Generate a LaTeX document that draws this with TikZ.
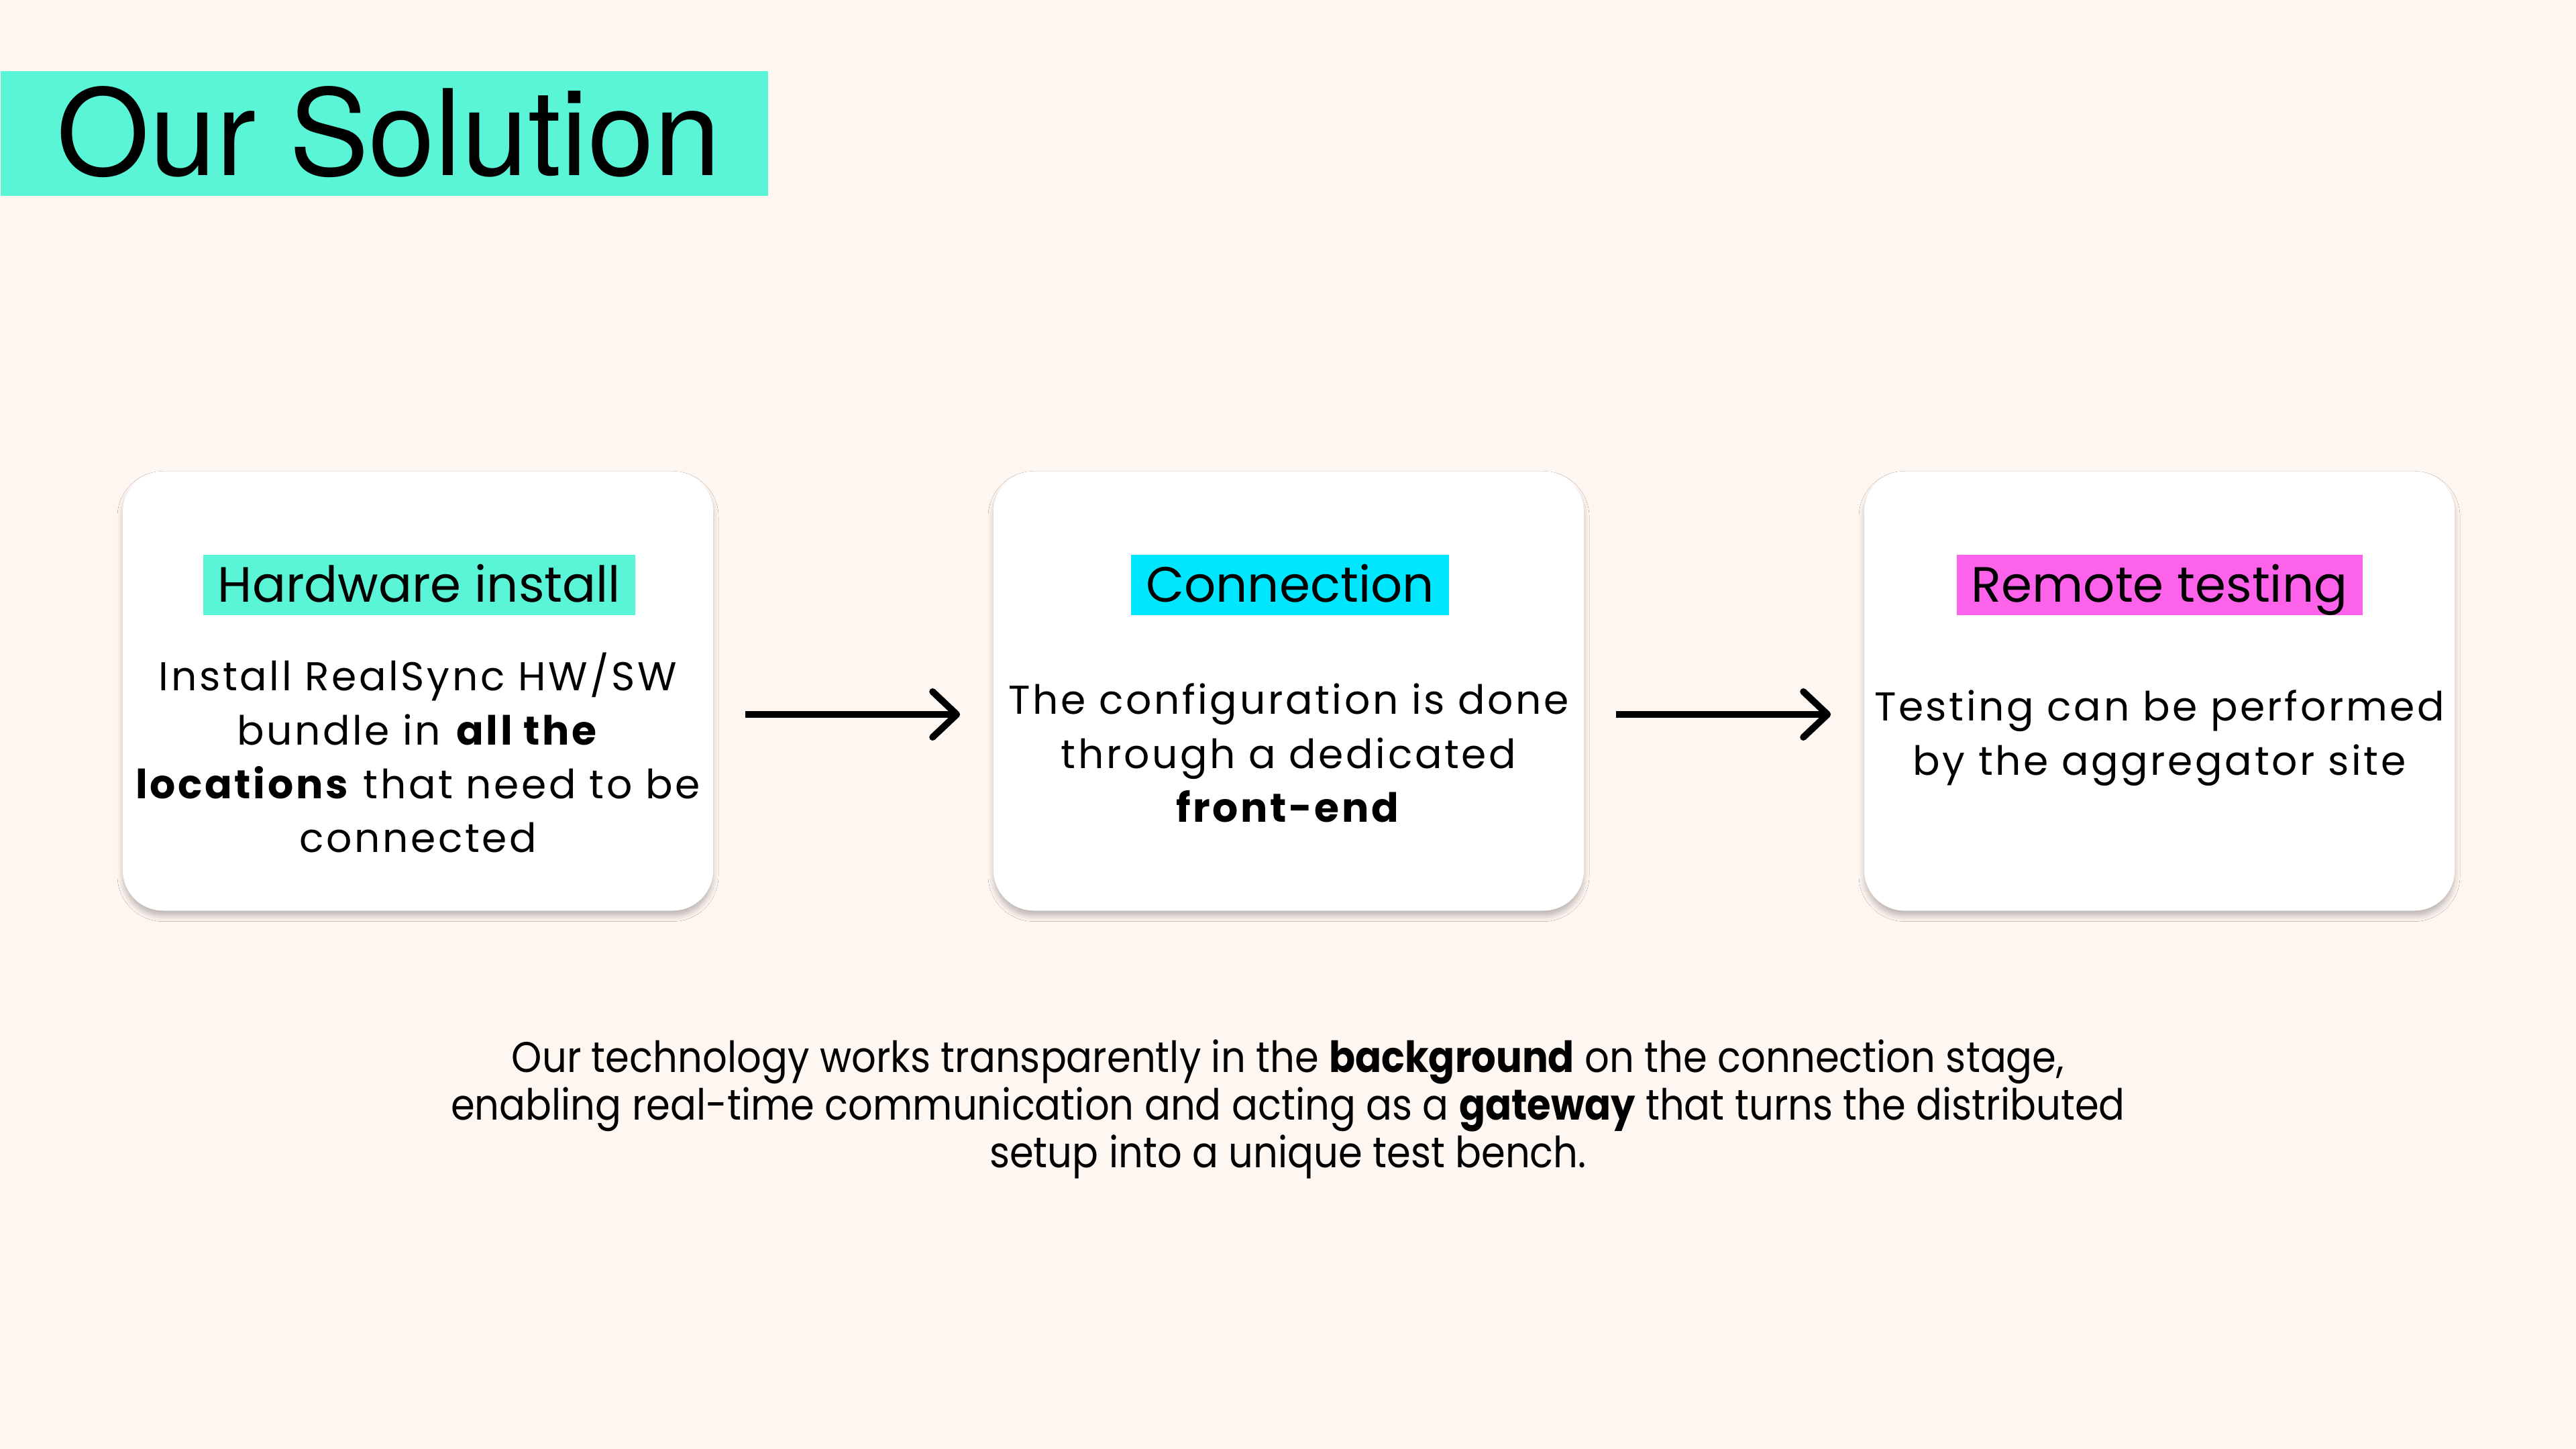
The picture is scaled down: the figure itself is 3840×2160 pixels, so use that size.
\documentclass[tikz,border=0pt]{standalone}
\usepackage{fontspec}
\setmainfont{Poppins}
\newfontfamily\titlefont{TeX Gyre Heros}
\newfontfamily\cardfont[LetterSpace=6]{Poppins}
\newfontfamily\tagfont{Poppins}
\newfontfamily\notefont[FakeStretch=0.9]{Poppins}
\usetikzlibrary{arrows.meta,calc,shadows.blur}
\definecolor{pagebg}{HTML}{FEF6F1}
\definecolor{aqua}{HTML}{5AF4D7}
\definecolor{skycyan}{HTML}{00E6FF}
\definecolor{hotpink}{HTML}{FC63EA}
% centred block of lines whose baseline is that of its first line
\newcommand{\lines}[1]{\begin{tabular}[t]{@{}c@{}}#1\end{tabular}}
\begin{document}
\begin{tikzpicture}[x=0.25pt,y=-0.25pt,
  card/.style={fill=white, rounded corners=15pt, minimum width=220pt,
    minimum height=163.75pt, inner sep=0pt,
    blur shadow={shadow xshift=0pt, shadow yshift=-2pt,
      shadow blur radius=2pt, shadow opacity=25}},
  tag/.style={minimum height=22.5pt, inner xsep=5.5pt, inner ysep=0pt,
    text height=13pt, text depth=0pt,
    font=\tagfont\fontsize{18.5}{22}\selectfont},
  body/.style={anchor=base, inner sep=0pt,
    font=\cardfont\fontsize{15}{20.1}\selectfont},
  flow/.style={line width=2.5pt,
    -{Straight Barb[length=9pt,width=17pt,line cap=round,line join=round]}}]

% page
\fill[pagebg] (0,0) rectangle (3840,2160);
\useasboundingbox (0,0) rectangle (3840,2160);

% heading
\node[fill=aqua, anchor=north west, minimum width=286pt, minimum height=46.5pt,
  inner sep=0pt] (titlebar) at (0,105) {};
\node[anchor=base west, inner sep=0pt,
  font=\titlefont\fontsize{44.5}{50}\selectfont] (title) at (84,262) {Our Solution};

% the three steps
\node[card] (card1) at (623,1030) {};
\node[card] (card2) at (1921,1030) {};
\node[card] (card3) at (3219,1030) {};

\node[tag, fill=aqua]     (tag1) at ($(card1.north)+(2,170)$) {Hardware install};
\node[tag, fill=skycyan]  (tag2) at ($(card2.north)+(2,170)$) {Connection};
\node[tag, fill=hotpink]  (tag3) at ($(card3.north)+(0,170)$) {Remote testing};

\node[body] (text1) at ($(card1.north)+(0,328)$)
  {\lines{Install RealSync HW/SW\\bundle in \textbf{all the}\\\textbf{locations} that need to be\\connected}};
\node[body] (text2) at ($(card2.north)+(0,363)$)
  {\lines{The configuration is done\\through a dedicated\\\textbf{front-end}}};
\node[body] (text3) at ($(card3.north)+(0,373)$)
  {\lines{Testing can be performed\\by the aggregator site}};

% arrows between steps
\coordinate (a1s) at ($(card1.east)+(47,35)$);
\coordinate (a1e) at ($(card2.west)+(-49,35)$);
\coordinate (a2s) at ($(card2.east)+(47,35)$);
\coordinate (a2e) at ($(card3.west)+(-49,35)$);
\draw[flow] (a1s) -- (a1e);
\draw[flow] (a2s) -- (a2e);

% closing note
\node[anchor=base, inner sep=0pt,
  font=\notefont\fontsize{16}{17.75}\selectfont] (note) at (1920,1598)
  {\lines{Our technology works transparently in the \textbf{background} on the connection stage,\\
   enabling real-time communication and acting as a \textbf{gateway} that turns the distributed\\
   setup into a unique test bench.}};
\end{tikzpicture}
\end{document}
